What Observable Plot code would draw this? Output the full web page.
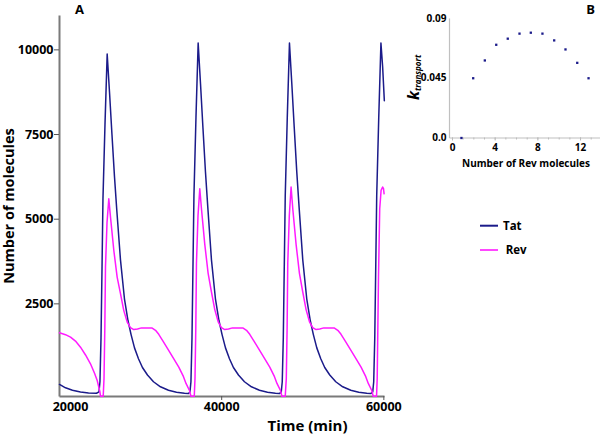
<!DOCTYPE html>
<html><head><meta charset="utf-8">
<script src="https://cdn.jsdelivr.net/npm/d3@7"></script>
<script src="https://cdn.jsdelivr.net/npm/@observablehq/plot@0.6"></script>
<style>
body{margin:0;background:#fff;}
#wrap{position:relative;width:600px;height:434px;overflow:hidden;background:#fff;}
#wrap > svg{position:absolute;}
</style></head><body><div id="wrap"></div>
<script>
// ---------- Panel A data ----------
const tatTime = [20000, 20740, 21600, 22590, 23580, 24560, 24870, 24990, 25120, 25240, 25360, 25610, 25880, 26170, 26470, 26780, 27070, 27520, 28010, 28450, 28820, 29250, 29740, 30230, 30850, 31590, 32450, 33440, 34430, 35410, 35910,
 36090, 36210, 36340, 36460, 36580, 36830, 37100, 37390, 37690, 38000, 38290, 38740, 39230, 39670, 40040, 40470, 40960, 41450, 42070, 42810, 43670, 44660, 45650, 46630, 47130,
 47350, 47470, 47600, 47720, 47840, 48090, 48360, 48650, 48950, 49260, 49550, 50000, 50490, 50930, 51300, 51730, 52220, 52710, 53330, 54070, 54930, 55920, 56910, 57890, 58390,
 58630, 58750, 58880, 59000, 59120, 59370, 59640, 59850, 60060];
const tatValue = [120, 20, -50, -100, -130, -140, -100, 200, 1500, 3500, 5600, 7800, 9880, 8740, 7500, 6260, 5250, 3800, 2650, 2000, 1600, 1200, 880, 620, 400, 200, 50, -50, -110, -140, -150,
 -100, 200, 1500, 3600, 5700, 8000, 10200, 9000, 7700, 6400, 5350, 3800, 2650, 2000, 1600, 1200, 880, 620, 400, 200, 50, -50, -110, -140, -150,
 -100, 200, 1500, 3600, 5700, 8000, 10200, 9000, 7700, 6400, 5350, 3800, 2650, 2000, 1600, 1200, 880, 620, 400, 200, 50, -50, -110, -140, -150,
 -100, 200, 1500, 3600, 5700, 8000, 10200, 9500, 8500];
const revTime = [20000, 20740, 21360, 21970, 22590, 23210, 23820, 24320, 24650, 24970, 25060, 25390, 25490, 25590, 25670, 25860, 26080, 26290, 26700, 27110, 27520, 27930, 28350, 28750, 29160, 29620, 30110, 30850, 31430, 31840, 32240, 32820, 33480, 34060, 34710, 35290, 35600, 36030, 36210, 36620,
 36710, 36810, 36890, 37080, 37300, 37510, 37920, 38330, 38740, 39150, 39570, 39970, 40380, 40840, 41330, 42070, 42650, 43060, 43460, 44040, 44700, 45280, 45930, 46510, 46820, 47250, 47430, 47840,
 47970, 48070, 48150, 48340, 48560, 48770, 49180, 49590, 50000, 50410, 50830, 51230, 51640, 52100, 52590, 53330, 53910, 54320, 54720, 55300, 55960, 56540, 57190, 57770, 58080, 58510, 58690, 59100,
 59180, 59260, 59340, 59490, 59660, 59850, 59960, 60030];
const revValue = [1645, 1590, 1515, 1400, 1220, 990, 730, 450, 236, -80, -230, -230, 300, 1800, 3580, 4900, 5600, 5060, 4075, 3290, 2800, 2300, 1960, 1800, 1740, 1760, 1790, 1790, 1785, 1720, 1600, 1380, 1120, 890, 630, 350, 150, -60, -230, -230,
 300, 1800, 3700, 5100, 5900, 5300, 4250, 3400, 2850, 2330, 1970, 1800, 1740, 1760, 1790, 1790, 1785, 1720, 1600, 1380, 1120, 890, 630, 350, 150, -60, -230, -230,
 300, 1800, 3700, 5100, 5950, 5300, 4250, 3400, 2850, 2330, 1970, 1800, 1740, 1760, 1790, 1790, 1785, 1720, 1600, 1380, 1120, 890, 630, 350, 150, -60, -230, -230,
 300, 1800, 3300, 5300, 5850, 5950, 5900, 5750];
const mainXTicks = [20000, 40000, 60000];
const mainYTicks = [2500, 5000, 7500, 10000];
const mainXDomain = [20000, 60080];
const mainYDomain = [-236, 11015];
const seriesNames = ["Tat", "Rev"];
const seriesColors = ["#1b1b8a", "#ff1aff"];

// ---------- Panel B data ----------
const revCount = [0.84, 1.94, 3.03, 4.1, 5.18, 6.28, 7.34, 8.43, 9.53, 10.59, 11.69, 12.75];
const kTransport = [0.0, 0.045, 0.0584, 0.0702, 0.0748, 0.0786, 0.0793, 0.0786, 0.0735, 0.0667, 0.0566, 0.045];
const bXTicks = [0, 4, 8, 12];
const bMinorTicks = [0,1,2,3,4,5,6,7,8,9,10,11,12,13];
const bYTicks = [0, 0.045, 0.09];
const bYTickLabels = ["0.0", "0.045", "0.09"];
const bXDomain = [-0.28, 13.87];
const bYDomain = [0, 0.09];

const wrap = document.getElementById("wrap");
const font = "'Open Sans', sans-serif";

const tatRows = tatTime.map((t, i) => ({t, v: tatValue[i]}));
const revRows = revTime.map((t, i) => ({t, v: revValue[i]}));

// left and bottom axis lines, built from the scale domains
const axisLines = (xd, yd) => [
  {x1: xd[0], x2: xd[0], y1: yd[0], y2: yd[1]},
  {x1: xd[0], x2: xd[1], y1: yd[0], y2: yd[0]}
];

const main = Plot.plot({
  width: 600, height: 434,
  marginLeft: 59, marginRight: 216, marginTop: 15, marginBottom: 38,
  style: {fontFamily: font, fontWeight: "bold", fontSize: "12.5px", background: "transparent", color: "black"},
  x: {domain: mainXDomain, label: null},
  y: {domain: mainYDomain, label: null},
  marks: [
    Plot.link(axisLines(mainXDomain, mainYDomain), {x1: "x1", x2: "x2", y1: "y1", y2: "y2", stroke: "#7a7a7a", strokeWidth: 2}),
    Plot.axisY({ticks: mainYTicks, tickSize: 5, tickPadding: 1, tickFormat: d => String(d), label: null, stroke: "#555", fill: "black"}),
    Plot.axisX({ticks: mainXTicks.slice(1), tickSize: 4, tickPadding: 2, tickFormat: d => String(d), label: null, stroke: "#555", fill: "black"}),
    Plot.axisX({ticks: mainXTicks.slice(0, 1), tickSize: 0, tickPadding: 6, dx: 11, tickFormat: d => String(d), label: null, fill: "black"}),
    Plot.line(tatRows, {x: "t", y: "v", stroke: seriesColors[0], strokeWidth: 1.5}),
    Plot.line(revRows, {x: "t", y: "v", stroke: seriesColors[1], strokeWidth: 1.5})
  ]
});
main.style.left = "0px"; main.style.top = "0px";
wrap.appendChild(main);

const bRows = revCount.map((n, i) => ({n, k: kTransport[i]}));
const pb = Plot.plot({
  width: 200, height: 180,
  marginLeft: 49, marginRight: 0, marginTop: 18, marginBottom: 42.5,
  style: {fontFamily: font, fontWeight: "bold", fontSize: "10px", background: "transparent", color: "black"},
  x: {domain: bXDomain, label: null},
  y: {domain: bYDomain, label: null},
  marks: [
    Plot.link(axisLines(bXDomain, bYDomain), {x1: "x1", x2: "x2", y1: "y1", y2: "y2", stroke: "#c0c0c0", strokeWidth: 1.2}),
    Plot.axisX({ticks: bMinorTicks, tickSize: 2, text: null, stroke: "#bbb"}),
    Plot.axisX({ticks: bXTicks, tickSize: 3, tickPadding: 3, label: null, stroke: "#bbb", fill: "black"}),
    Plot.axisY({ticks: bYTicks, tickSize: 0, tickPadding: 3, label: null, tickFormat: d => bYTickLabels[bYTicks.indexOf(d)], fill: "black"}),
    Plot.dot(bRows, {x: "n", y: "k", symbol: "square", r: 1.3, fill: seriesColors[0], stroke: null})
  ]
});
pb.style.left = "400px"; pb.style.top = "0px";
wrap.appendChild(pb);

// ---------- Overlay texts & legend ----------
const ov = d3.create("svg").attr("width", 600).attr("height", 434)
  .style("left", "0px").style("top", "0px")
  .attr("font-family", font).attr("font-weight", "bold");
ov.append("text").attr("x", 79.5).attr("y", 13.5).attr("text-anchor", "middle").attr("font-size", 13).text("A");
ov.append("text").attr("x", 590.5).attr("y", 14).attr("text-anchor", "middle").attr("font-size", 13).text("B");
ov.append("text").attr("transform", "translate(13.5,206) rotate(-90)").attr("text-anchor", "middle").attr("font-size", 14.5).text("Number of molecules");
ov.append("text").attr("x", 307.5).attr("y", 430.5).attr("text-anchor", "middle").attr("font-size", 15).text("Time (min)");
ov.append("text").attr("x", 526).attr("y", 167).attr("text-anchor", "middle").attr("font-size", 10).text("Number of Rev molecules");
const kt = ov.append("text").attr("transform", "translate(418.5,100) rotate(-90)").attr("font-style", "italic");
kt.append("tspan").attr("font-size", 16).text("k");
kt.append("tspan").attr("font-size", 8).attr("dy", 2).text("transport");
const legY = [225.7, 250];
const legTextX = [503, 505.7];
seriesNames.forEach((name, i) => {
  ov.append("line").attr("x1", 480).attr("x2", 498).attr("y1", legY[i]).attr("y2", legY[i])
    .attr("stroke", seriesColors[i]).attr("stroke-width", i === 0 ? 2 : 1.6);
  ov.append("text").attr("x", legTextX[i]).attr("y", legY[i] + 4).attr("font-size", 11.5).text(name);
});
wrap.appendChild(ov.node());
</script></body></html>
